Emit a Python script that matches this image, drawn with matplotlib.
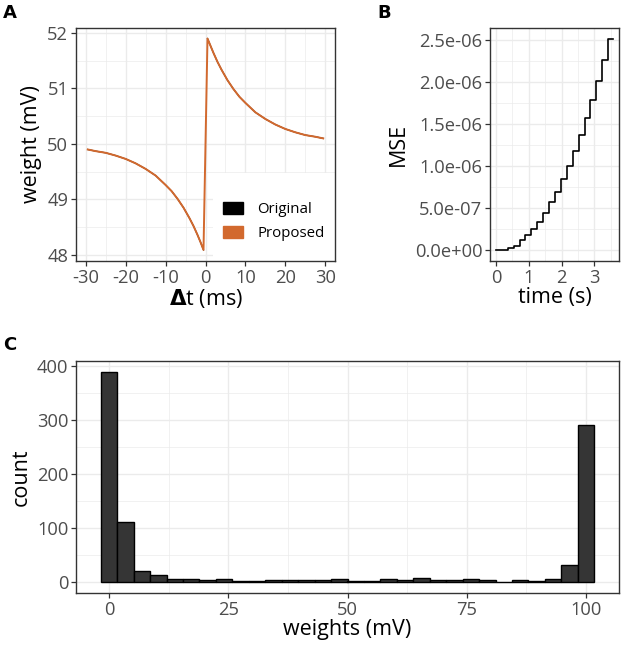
import numpy as np
import matplotlib
matplotlib.use("Agg")
import matplotlib.pyplot as plt
from matplotlib.patches import Patch, Rectangle
from matplotlib.ticker import MultipleLocator, FuncFormatter

plt.rcParams["font.family"] = ["Open Sans", "DejaVu Sans"]
plt.rcParams["axes.unicode_minus"] = False

# panel A: weight change vs spike timing
dt_neg = [-29.5, -27.5, -25, -22.5, -20, -17.5, -15, -12.5, -10, -8.5, -7, -5.5,
          -4, -3, -2, -1.25, -0.5]
w_neg = [49.90, 49.87, 49.84, 49.79, 49.73, 49.65, 49.55, 49.43, 49.26, 49.15,
         49.01, 48.85, 48.66, 48.52, 48.36, 48.23, 48.09]
dt_pos = [0.5, 1.25, 2, 3, 4, 5.5, 7, 8.5, 10, 12.5, 15, 17.5, 20, 22.5, 25,
          27.5, 29.5]
w_pos = [51.90, 51.77, 51.64, 51.48, 51.34, 51.15, 50.99, 50.85, 50.74, 50.57,
         50.45, 50.35, 50.27, 50.21, 50.16, 50.13, 50.10]

# panel B: MSE between original and proposed over time
mse_time = [0, 0.18, 0.36, 0.54, 0.72, 0.90, 1.08, 1.26, 1.44, 1.62, 1.80,
            1.98, 2.16, 2.34, 2.52, 2.70, 2.88, 3.06, 3.24, 3.42, 3.57]
mse_vals = [0, 0.01e-6, 0.03e-6, 0.055e-6, 0.12e-6, 0.18e-6, 0.25e-6, 0.34e-6,
            0.45e-6, 0.57e-6, 0.70e-6, 0.845e-6, 1.01e-6, 1.18e-6, 1.37e-6,
            1.57e-6, 1.79e-6, 2.02e-6, 2.27e-6, 2.52e-6, 2.52e-6]

# panel C: histogram of final weights (30 bins over 0..100)
hist_counts = [390, 111, 22, 13, 7, 7, 4, 7, 3, 2, 5, 5, 4, 5, 6, 3, 2, 6, 4, 9,
               5, 5, 6, 4, 1, 4, 3, 7, 33, 292]

ORANGE = "#d2692e"
GRID = "#ebebeb"
TICKCOL = "#4d4d4d"
TICK_FS = 13.2
TITLE_FS = 15.5

W, H = 624, 649
fig = plt.figure(figsize=(W / 100, H / 100), dpi=100)


def px_axes(left, top, right, bottom):
    return fig.add_axes([left / W, 1 - bottom / H, (right - left) / W, (bottom - top) / H])


def style(ax):
    ax.set_facecolor("white")
    for s in ax.spines.values():
        s.set_color("#333333")
        s.set_linewidth(1.0)
    ax.grid(True, which="major", color=GRID, lw=1.0)
    ax.grid(True, which="minor", color=GRID, lw=0.5)
    ax.set_axisbelow(True)
    ax.tick_params(which="major", length=3.5, width=0.9, color="#333333",
                   labelsize=TICK_FS, labelcolor=TICKCOL, pad=2)
    ax.tick_params(which="minor", length=0)


# ---- A
A_BOX = (76, 28, 335, 261)
axA = px_axes(*A_BOX)
style(axA)
axA.plot(dt_neg, w_neg, color="black", lw=0.9)
axA.plot(dt_pos, w_pos, color="black", lw=0.9)
axA.plot(dt_neg + dt_pos, w_neg + w_pos, color=ORANGE, lw=1.4)
axA.set_xlim(-32.45, 32.45)
axA.set_ylim(47.89, 52.09)
axA.xaxis.set_major_locator(MultipleLocator(10))
axA.xaxis.set_minor_locator(MultipleLocator(5))
axA.yaxis.set_major_locator(MultipleLocator(1))
axA.yaxis.set_minor_locator(MultipleLocator(0.5))
axA.set_xlabel(r"$\mathbf{\Delta}$t (ms)", fontsize=TITLE_FS, labelpad=0)
axA.set_ylabel("weight (mV)", fontsize=TITLE_FS, labelpad=4)

# white legend background that hides the grid, like ggplot's inside legend
aw, ah = A_BOX[2] - A_BOX[0], A_BOX[3] - A_BOX[1]
lx0 = (213 - A_BOX[0]) / aw
ly1 = (A_BOX[3] - 173) / ah
axA.add_patch(Rectangle((lx0, 0), 1 - lx0, ly1, transform=axA.transAxes,
                        facecolor="white", edgecolor="none", zorder=1.5))
handles = [Patch(facecolor="black", edgecolor="black", label="Original"),
           Patch(facecolor=ORANGE, edgecolor=ORANGE, label="Proposed")]
leg = axA.legend(handles=handles, loc="upper left",
                 bbox_to_anchor=((223 - A_BOX[0]) / aw, (A_BOX[3] - 202) / ah),
                 borderaxespad=0, borderpad=0, frameon=False, fontsize=10.8,
                 handlelength=1.33, handleheight=0.8, handletextpad=0.95,
                 labelspacing=0.6)

# ---- B
axB = px_axes(490, 28, 619, 261)
style(axB)
axB.step(mse_time, mse_vals, where="post", color="black", lw=1.2)
axB.set_xlim(-0.18, 3.75)
axB.set_ylim(-0.126e-6, 2.646e-6)
axB.xaxis.set_major_locator(MultipleLocator(1))
axB.xaxis.set_minor_locator(MultipleLocator(0.5))
axB.yaxis.set_major_locator(MultipleLocator(0.5e-6))
axB.yaxis.set_minor_locator(MultipleLocator(0.25e-6))
axB.yaxis.set_major_formatter(FuncFormatter(lambda v, p: f"{v:.1e}"))
axB.set_xlabel("time (s)", fontsize=TITLE_FS, labelpad=0)
axB.set_ylabel("MSE", fontsize=TITLE_FS, labelpad=4)

# ---- C
axC = px_axes(76, 361, 619, 593)
style(axC)
centers = np.linspace(0, 100, len(hist_counts))
bw = centers[1] - centers[0]
axC.bar(centers, hist_counts, width=bw, color="#353535", edgecolor="black", lw=1.0)
axC.set_xlim(-6.9, 106.9)
axC.set_ylim(-19.5, 409.5)
axC.xaxis.set_major_locator(MultipleLocator(25))
axC.xaxis.set_minor_locator(MultipleLocator(12.5))
axC.yaxis.set_major_locator(MultipleLocator(100))
axC.yaxis.set_minor_locator(MultipleLocator(50))
axC.set_xlabel("weights (mV)", fontsize=TITLE_FS, labelpad=0)
axC.set_ylabel("count", fontsize=TITLE_FS, labelpad=4)

for lab, x, y in [("A", 3, 4), ("B", 377, 4), ("C", 3, 336)]:
    fig.text(x / W, 1 - y / H, lab, fontsize=13, fontweight="bold",
             family="DejaVu Sans", ha="left", va="top")

fig.savefig("out.png", dpi=100, facecolor="white")
